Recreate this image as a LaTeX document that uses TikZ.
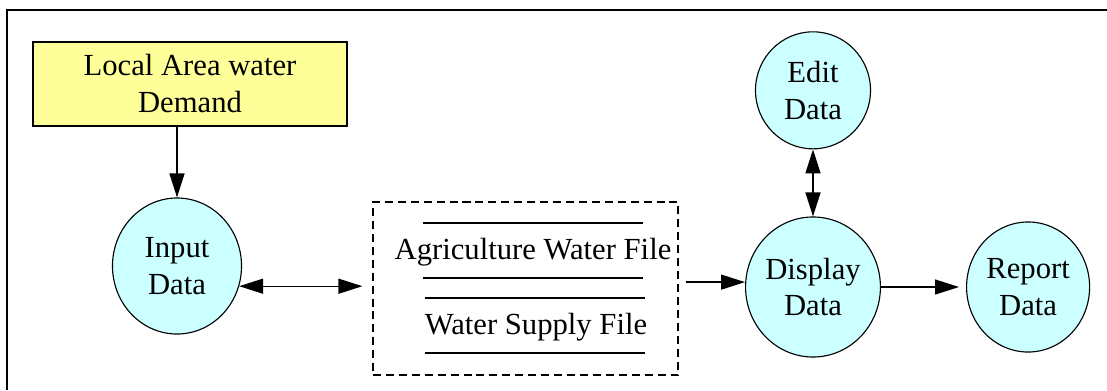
\documentclass[tikz,border=0pt]{standalone}
\usepackage{fontspec}
\setmainfont{Liberation Serif}
\usetikzlibrary{arrows.meta}
\usetikzlibrary{positioning}
\usetikzlibrary{shapes.geometric}
\definecolor{proccyan}{RGB}{204,255,255}
\definecolor{demandyellow}{RGB}{255,255,153}

\begin{document}
\begin{tikzpicture}[x=0.025cm,y=-0.025cm,
  every node/.style={font=\fontsize{21.8pt}{26.3pt}\selectfont,align=center,inner sep=0pt},
  proc/.style={draw,ellipse,fill=proccyan,line width=0.8pt},
  arr/.style={line width=1pt,-{Triangle[length=0.6cm,width=0.375cm]}},
  dbl/.style={line width=1pt,{Triangle[length=0.6cm,width=0.375cm]}-{Triangle[length=0.6cm,width=0.375cm]}}]
  \useasboundingbox (0,0) rectangle (1107,390);
  \draw[line width=1.1pt] (7,390) -- (7,10) -- (1107,10);

  \node (demand) at (190,84)[draw,fill=demandyellow,line width=0.8pt,minimum width=7.85cm,minimum height=2.1cm]{Local Area water\\Demand};
  \node (input) at (177,266)[proc,minimum width=3.225cm,minimum height=3.4cm]{Input\\Data};
  \node (store) at (525.5,288.5)[draw,dashed,line width=0.8pt,dash pattern=on 5.7pt off 3.5pt,minimum width=7.625cm,minimum height=4.325cm]{};
  \node (agri) at (533,252){Agriculture Water File};
  \node (supply) at (536,327){Water Supply File};
  \node (display) at (813,287)[proc,minimum width=3.325cm,minimum height=3.5cm]{Display\\Data};
  \node[above=1.675cm of display,proc,minimum width=2.875cm,minimum height=2.925cm](edit){Edit\\Data};
  \node[right=2.125cm of display,proc,minimum width=3.075cm,minimum height=3.25cm](report){Report\\Data};

  \foreach \y in {223,278} \draw[line width=0.8pt] (423,\y) -- (643,\y);
  \foreach \y in {298,353} \draw[line width=0.8pt] (425,\y) -- (645,\y);

  \draw[arr](demand.south -| input.north)--(input.north);
  \draw[dbl,shorten >=0.25cm](input.-18)--(input.-18 -| store.west);
  \draw[arr,shorten <=0.175cm]([yshift=0.16cm]store.east)--([yshift=0.16cm]store.east -| display.west);
  \draw[dbl](edit.south)--(display.north);
  \draw[arr,shorten >=0.175cm](display)--(report);
\end{tikzpicture}
\end{document}
